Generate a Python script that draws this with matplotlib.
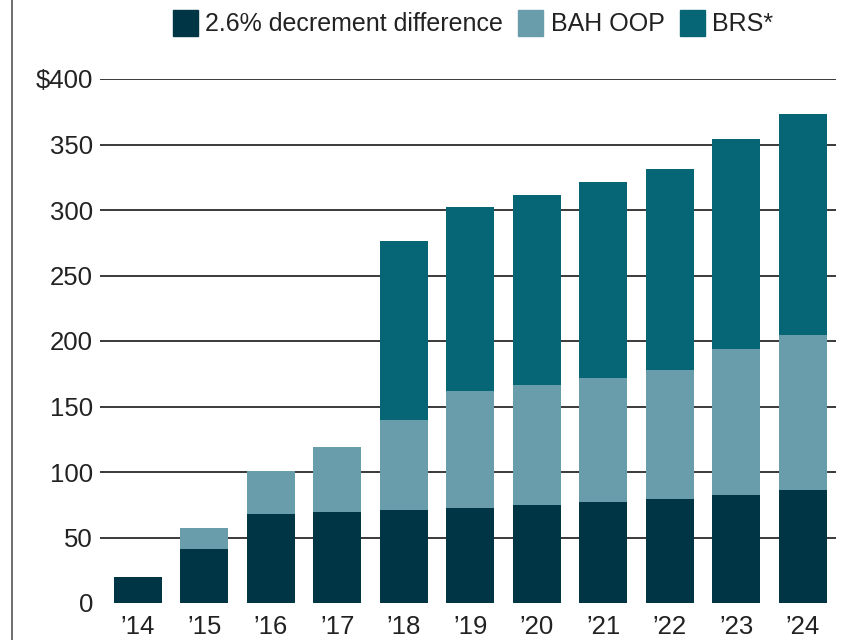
import matplotlib.pyplot as plt
import numpy as np
from matplotlib.patches import Rectangle
from matplotlib.lines import Line2D

plt.rcParams['font.family'] = ['Liberation Sans Narrow', 'Liberation Sans', 'DejaVu Sans']

# values (dollars)
years = ["’14", "’15", "’16", "’17", "’18", "’19", "’20", "’21", "’22", "’23", "’24"]
decrement = [20, 41, 68, 69.5, 71, 72.5, 75, 77, 79.5, 82.5, 86]
bah_oop = [0, 16, 33, 49.5, 69, 89.5, 91.5, 95, 98.5, 111.5, 118.5]
brs = [0, 0, 0, 0, 136, 140, 145, 149.5, 153.5, 160, 169]

labels = ['2.6% decrement difference', 'BAH OOP', 'BRS*']
colors = ['#003545', '#6a9dab', '#076675']

fig = plt.figure(figsize=(8.53, 6.4), dpi=100)
ax = fig.add_axes([100 / 853, 1 - 603 / 640, 736 / 853, 524 / 640])

x = np.arange(len(years))
w = 0.72
ax.bar(x, decrement, w, color=colors[0], zorder=3)
ax.bar(x, bah_oop, w, bottom=decrement, color=colors[1], zorder=3)
ax.bar(x, brs, w, bottom=np.array(decrement) + np.array(bah_oop), color=colors[2], zorder=3)

ax.set_xlim(-0.57, 10.5)
ax.set_ylim(0, 400)
for y in range(50, 401, 50):
    ax.axhline(y, color='#3a3a3a', lw=1.4, zorder=1)

ax.set_yticks(range(0, 401, 50))
ax.set_yticklabels(['0', '50', '100', '150', '200', '250', '300', '350', '$400'])
ax.set_xticks(x)
ax.set_xticklabels(years)
ax.tick_params(axis='both', length=0, labelsize=18.5, colors='#222222')
ax.tick_params(axis='y', pad=5)
ax.tick_params(axis='x', pad=9)
for s in ax.spines.values():
    s.set_visible(False)

# legend across the top
handles = [Rectangle((0, 0), 1, 1, color=c) for c in colors]
fig.legend(handles, labels, loc='center', bbox_to_anchor=(473 / 853, 1 - 23 / 640),
           ncol=3, frameon=False, fontsize=18, handlelength=1.0, handleheight=1.25,
           handletextpad=0.3, columnspacing=0.6, labelcolor='#222222')

# thin frame line at the left edge
fig.add_artist(Line2D([12 / 853, 12 / 853], [0, 1], color='#555555', lw=1.2))

fig.savefig('out.png', dpi=100)
